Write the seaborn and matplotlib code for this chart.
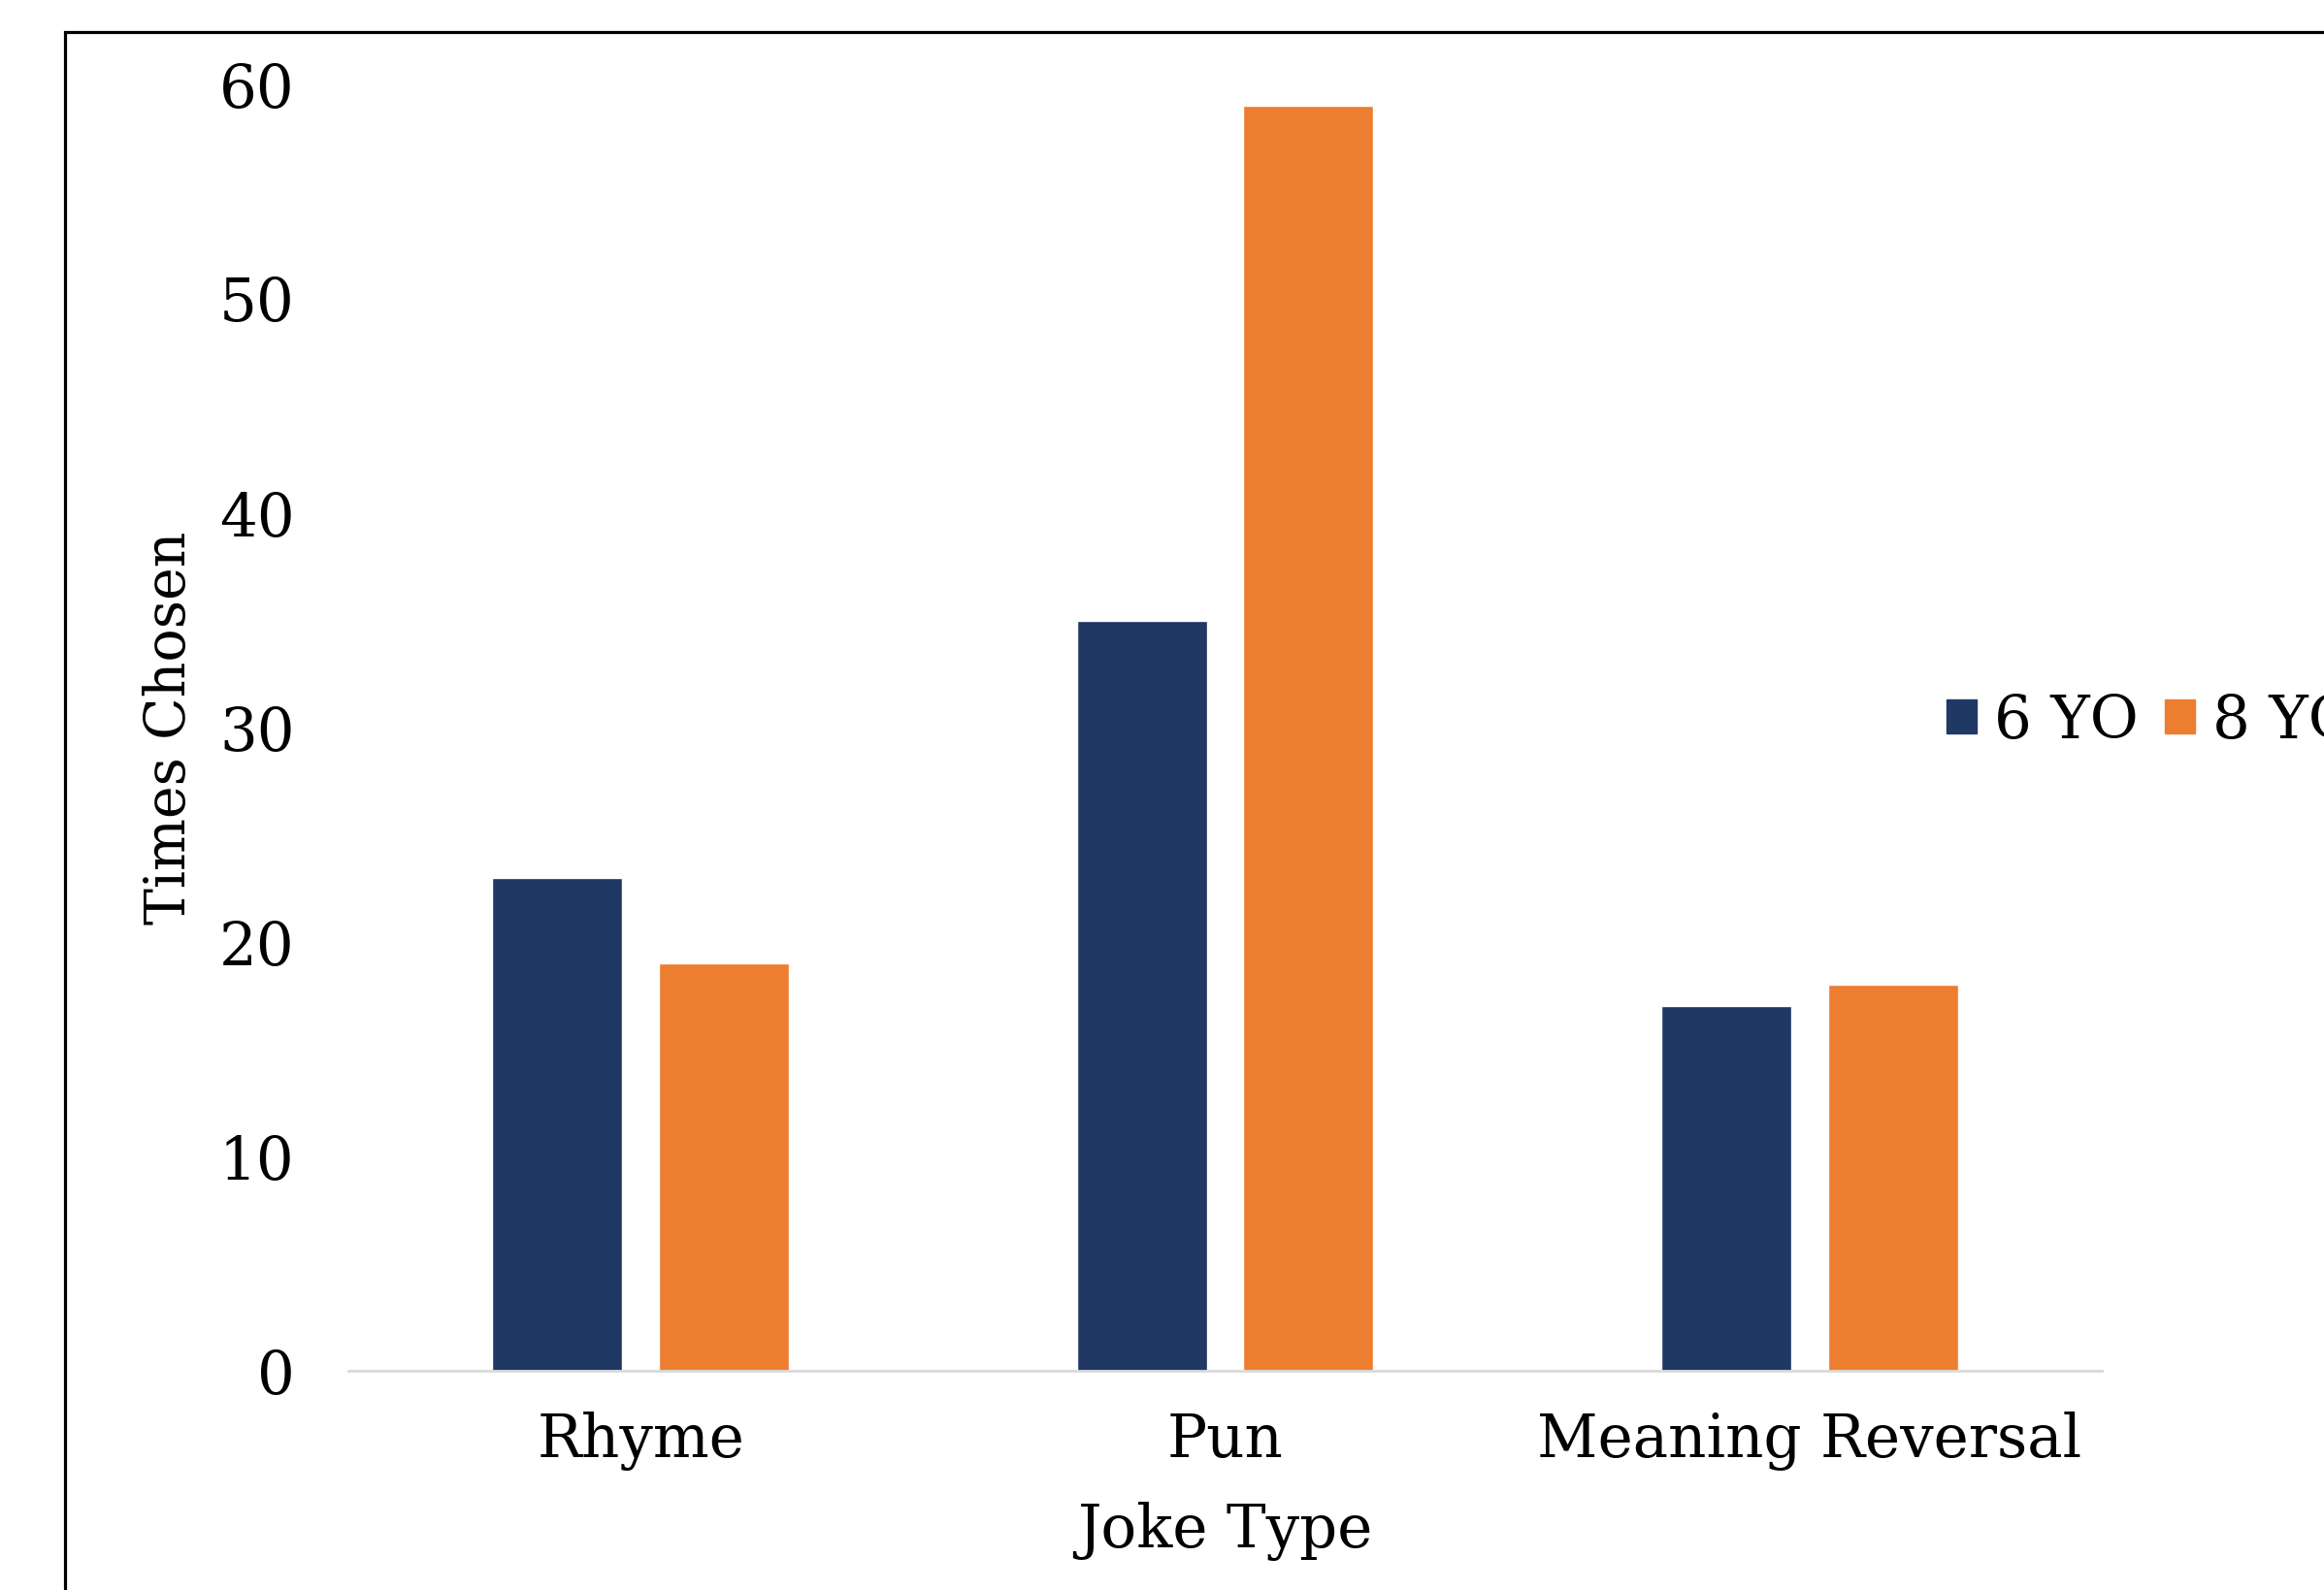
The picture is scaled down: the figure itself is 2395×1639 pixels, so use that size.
import matplotlib
matplotlib.use("Agg")
import matplotlib.pyplot as plt
import seaborn as sns
import pandas as pd
from matplotlib.patches import Rectangle

joke_types = ["Rhyme", "Pun", "Meaning Reversal"]
age_groups = ["6 YO", "8 YO"]
times_6yo = [23, 35, 17]
times_8yo = [19, 59, 18]
y_ticks = [0, 10, 20, 30, 40, 50, 60]

df = pd.DataFrame({
    "Joke Type": joke_types * 2,
    "Group": [age_groups[0]] * 3 + [age_groups[1]] * 3,
    "Times Chosen": times_6yo + times_8yo,
})

sns.set_theme(style="white")
plt.rcParams["font.family"] = ["DejaVu Serif", "Liberation Serif"]
plt.rcParams["text.color"] = "black"
plt.rcParams["axes.labelcolor"] = "black"

W, H = 2395, 1639
FS = 44
fig = plt.figure(figsize=(W / 100, H / 100), dpi=100)
ax = fig.add_axes([359 / W, 1 - 1413 / H, (2166 - 359) / W, (1413 - 87) / H])

palette = {"6 YO": "#203864", "8 YO": "#ED7D31"}
sns.barplot(data=df, x="Joke Type", y="Times Chosen", hue="Group",
            order=joke_types, hue_order=age_groups, palette=palette,
            width=0.57, gap=0.22, saturation=1, ax=ax, legend=False)

ax.set_xlim(-0.5, 2.5)
ax.set_ylim(0, 60)
ax.set_yticks(y_ticks)
for s in ["top", "right", "left"]:
    ax.spines[s].set_visible(False)
ax.spines["bottom"].set_color("#D9D9D9")
ax.spines["bottom"].set_linewidth(2.0)
ax.tick_params(axis="both", length=0, labelsize=FS, colors="black")
ax.tick_params(axis="y", pad=40)
ax.tick_params(axis="x", pad=30)
ax.set_xlabel("Joke Type", fontsize=FS, labelpad=23)
ax.set_ylabel("Times Chosen", fontsize=41, labelpad=16)

handles = [Rectangle((0, 0), 1, 1, color=palette[g]) for g in age_groups]
fig.legend(handles, age_groups, loc="center left",
           bbox_to_anchor=(2006 / W, 1 - 743 / H), ncol=2, frameon=False,
           fontsize=FS, handlelength=0.5, handleheight=0.5,
           handletextpad=0.3, columnspacing=0.45, borderaxespad=0, borderpad=0)

# outer frame (continues past the right and bottom edges)
fig.patches.append(Rectangle((67 / W, -0.1), 1.2, 1 - 33 / H + 0.1,
                             transform=fig.transFigure, fill=False,
                             edgecolor="black", linewidth=2.3))

fig.savefig("out.png", dpi=100, facecolor="white")
